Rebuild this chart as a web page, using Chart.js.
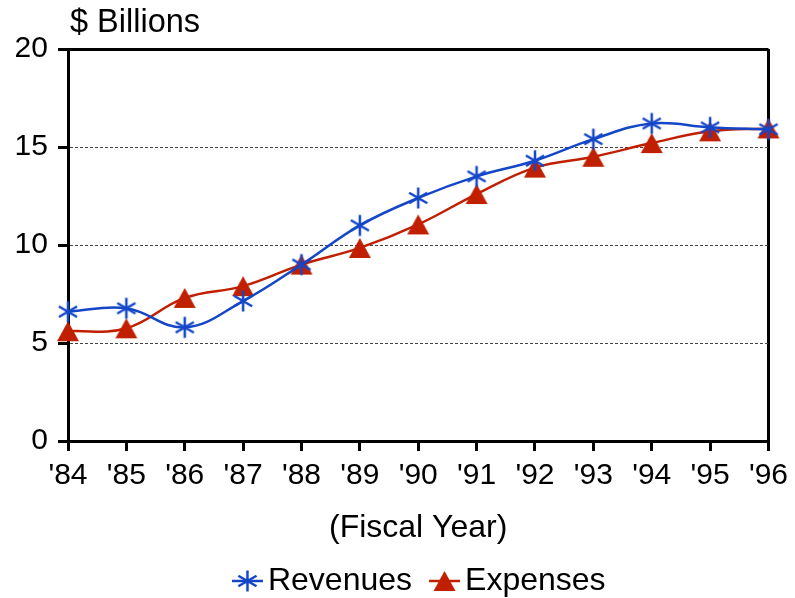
<!DOCTYPE html>
<html>
<head>
<meta charset="utf-8">
<script src="https://cdn.jsdelivr.net/npm/chart.js@4.4.1/dist/chart.umd.min.js"></script>
<style>
  html, body { margin: 0; padding: 0; background: #fff; }
</style>
</head>
<body>
<canvas id="myChart" width="795" height="598"></canvas>
<script>
// data
const years = ["'84", "'85", "'86", "'87", "'88", "'89", "'90", "'91", "'92", "'93", "'94", "'95", "'96"];
const revenues = [6.6, 6.77, 5.8, 7.14, 9.0, 11.0, 12.4, 13.5, 14.3, 15.4, 16.2, 16.0, 15.9];
const expenses = [5.6, 5.75, 7.3, 7.9, 9.0, 9.85, 11.05, 12.6, 13.95, 14.5, 15.2, 15.8, 15.95];
const yTicks = [0, 5, 10, 15, 20];

const BLUE = '#1446c8';
const RED = '#c02000';
const FONT = 'Liberation Sans, Arial, sans-serif';

// marker pictures (asterisk and triangle), optionally with a legend line
function starMarker(w, cx, withLine) {
  const c = document.createElement('canvas');
  c.width = w; c.height = 24;
  const g = c.getContext('2d');
  const cy = 12;
  g.strokeStyle = BLUE;
  if (withLine) {
    g.lineWidth = 2.5;
    g.beginPath(); g.moveTo(cx - 15.5, cy); g.lineTo(cx + 15.5, cy); g.stroke();
  }
  g.lineWidth = 2.5;
  g.beginPath();
  for (let a = 90; a < 270; a += 60) {
    const r = a * Math.PI / 180;
    g.moveTo(cx + Math.cos(r) * 10.5, cy - Math.sin(r) * 10.5);
    g.lineTo(cx - Math.cos(r) * 10.5, cy + Math.sin(r) * 10.5);
  }
  g.stroke();
  return c;
}

function triMarker(w, cx, withLine) {
  const c = document.createElement('canvas');
  c.width = w; c.height = 24;
  const g = c.getContext('2d');
  const cy = 12;
  if (withLine) {
    g.strokeStyle = RED;
    g.lineWidth = 2.5;
    g.beginPath(); g.moveTo(cx - 15.5, cy); g.lineTo(cx + 15.5, cy); g.stroke();
  }
  g.fillStyle = RED;
  g.beginPath();
  g.moveTo(cx, cy - 10);
  g.lineTo(cx + 11, cy + 10);
  g.lineTo(cx - 11, cy + 10);
  g.closePath();
  g.fill();
  return c;
}

const legendImgs = [starMarker(62, 41.5, true), triMarker(62, 41.5, true)];

const yTitle = {
  id: 'yTitle',
  afterDraw(chart) {
    const c = chart.ctx;
    c.save();
    c.font = '32.5px ' + FONT;
    c.fillStyle = '#000';
    c.textBaseline = 'middle';
    c.fillText('$ Billions', 70, 23);
    c.restore();
  }
};

const ctx = document.getElementById('myChart');

new Chart(ctx, {
  type: 'line',
  data: {
    labels: years,
    datasets: [{
      label: 'Revenues',
      data: revenues,
      borderColor: BLUE,
      backgroundColor: BLUE,
      borderWidth: 2.5,
      tension: 0.4,
      pointStyle: starMarker(24, 12, false),
      pointRadius: 10
    }, {
      label: 'Expenses',
      data: expenses,
      borderColor: RED,
      backgroundColor: RED,
      borderWidth: 2.5,
      tension: 0.4,
      pointStyle: triMarker(24, 12, false),
      pointRadius: 10
    }]
  },
  options: {
    responsive: false,
    animation: false,
    layout: { padding: { top: 49, right: 26, bottom: 0, left: 58.5 } },
    plugins: {
      tooltip: { enabled: false },
      legend: {
        position: 'bottom',
        maxHeight: 40,
        labels: {
          usePointStyle: true,
          pointStyleWidth: 30,
          padding: 7,
          color: '#000',
          font: { family: FONT, size: 32 },
          generateLabels(chart) {
            const items = Chart.defaults.plugins.legend.labels.generateLabels(chart);
            items.forEach((it, i) => { it.pointStyle = legendImgs[i]; });
            return items;
          }
        }
      }
    },
    scales: {
      x: {
        type: 'category',
        offset: false,
        grid: {
          drawOnChartArea: true,
          color: c => (c.index === years.length - 1 ? '#000' : 'rgba(0,0,0,0)'),
          lineWidth: 3,
          tickLength: 10,
          tickColor: '#000',
          tickWidth: 3
        },
        border: { display: true, color: '#000', width: 3 },
        ticks: {
          color: '#000',
          font: { family: FONT, size: 30 },
          padding: 7,
          maxRotation: 0,
          autoSkip: false
        },
        title: {
          display: true,
          text: '(Fiscal Year)',
          color: '#000',
          font: { family: FONT, size: 32 },
          padding: { top: 0, bottom: 11 }
        },
        afterFit(scale) { scale.height = 117; }
      },
      y: {
        min: 0,
        max: 20,
        afterBuildTicks(scale) { scale.ticks = yTicks.map(v => ({ value: v })); },
        grid: {
          color: c => {
            const v = c.tick && c.tick.value;
            if (v === 20) return '#000';
            if (v === 0) return 'rgba(0,0,0,0)';
            return '#444';
          },
          lineWidth: c => (c.tick && c.tick.value === 20 ? 3 : 1),
          tickLength: 10,
          tickColor: '#000',
          tickWidth: 3
        },
        border: {
          display: true,
          color: '#000',
          width: 3,
          dash: c => (c.tick && c.tick.value === 20 ? [] : [3, 2])
        },
        // labels sit left of the narrow axis box, right-aligned at x = 48
        ticks: {
          color: '#000',
          font: { family: FONT, size: 30 },
          mirror: true,
          crossAlign: 'far',
          padding: -53.4
        },
        afterFit(scale) { scale.width = 9.5; }
      }
    }
  },
  plugins: [yTitle]
});
</script>
</body>
</html>
